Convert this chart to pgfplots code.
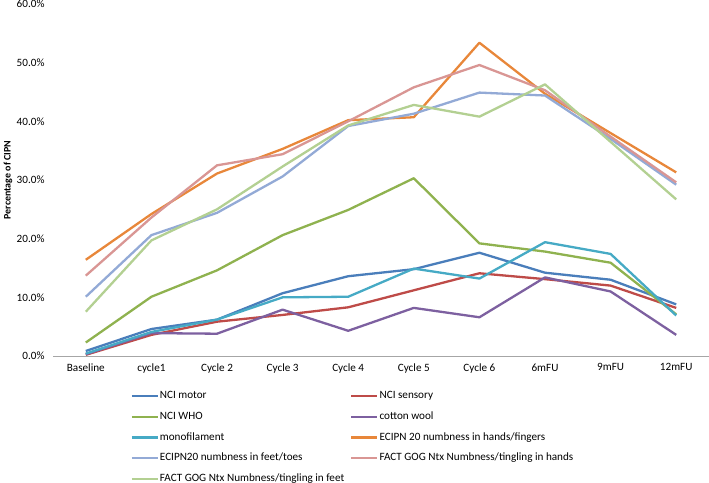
\documentclass[border=0pt]{standalone}
\usepackage{pgfplots}
\pgfplotsset{compat=1.18}
\usepackage{fontspec}
\setmainfont{Carlito}
\definecolor{cMotor}{HTML}{4A7EBB}
\definecolor{cSens}{HTML}{BE4B48}
\definecolor{cWHO}{HTML}{8FB24F}
\definecolor{cCotton}{HTML}{7D60A0}
\definecolor{cMono}{HTML}{46AAC5}
\definecolor{cEHand}{HTML}{E8873A}
\definecolor{cEFeet}{HTML}{93AAD6}
\definecolor{cFHand}{HTML}{D99694}
\definecolor{cFFeet}{HTML}{B3D092}
\begin{document}
\begin{tikzpicture}
\useasboundingbox (-53bp,-127bp) rectangle (656bp,356bp);
\begin{axis}[
  at={(0,0)}, anchor=south west,
  scale only axis, width=656bp, height=352bp,
  xmin=-0.5, xmax=9.5, ymin=0, ymax=60,
  axis lines*=left,
  x axis line style={gray!70, line width=0.8bp, -},
  y axis line style={draw=none},
  xtick={0,...,9},
  xticklabels={Baseline,cycle1,Cycle 2,Cycle 3,Cycle 4,Cycle 5,Cycle 6,6mFU,9mFU,12mFU},
  xtick style={draw=none},
  ytick={0,10,...,60},
  ytick style={draw=none},
  yticklabel={\pgfmathprintnumber[fixed,fixed zerofill,precision=1]{\tick}\%},
  /pgf/number format/assume math mode=true,
  tick label style={font=\fontsize{11.2}{13}\selectfont},
  xticklabel style={yshift=-4bp},
  yticklabel style={xshift=-5bp},
  ylabel={\bfseries Percentage of CIPN},
  ylabel style={font=\fontsize{11.2}{13}\selectfont},
  every axis y label/.style={at={(-45bp,176bp)}, rotate=90, anchor=center},
  every axis plot/.append style={line width=2.3bp, mark=none, line join=round},
  legend columns=2,
  legend cell align=left,
  legend image code/.code={\draw[#1] (0bp,0bp) -- (26bp,0bp);},
  legend style={draw=none, at={(0.1135,-0.09)}, anchor=north west,
    font=\fontsize{11.2}{13}\selectfont,
    nodes={inner sep=1bp, text height=8bp, text depth=2.5bp},
    row sep=8.2bp,
    /tikz/column 2/.style={column sep=5bp}},
  clip=false,
]
\addplot[cMotor] coordinates {(0,0.85) (1,4.6) (2,6.2) (3,10.7) (4,13.6) (5,14.8) (6,17.6) (7,14.2) (8,13.0) (9,8.8)};
\addlegendentry{NCI motor}
\addplot[cSens] coordinates {(0,0.2) (1,3.6) (2,5.85) (3,7.0) (4,8.3) (5,11.2) (6,14.1) (7,13.1) (8,12.0) (9,8.2)};
\addlegendentry{NCI sensory}
\addplot[cWHO] coordinates {(0,2.3) (1,10.1) (2,14.6) (3,20.6) (4,24.9) (5,30.3) (6,19.2) (7,17.8) (8,15.9) (9,7.1)};
\addlegendentry{NCI WHO}
\addplot[cCotton] coordinates {(0,0.3) (1,3.9) (2,3.8) (3,7.9) (4,4.3) (5,8.2) (6,6.6) (7,13.4) (8,11.0) (9,3.6)};
\addlegendentry{cotton wool}
\addplot[cMono] coordinates {(0,0.4) (1,4.1) (2,6.2) (3,10.0) (4,10.1) (5,14.9) (6,13.2) (7,19.4) (8,17.4) (9,6.9)};
\addlegendentry{monofilament}
\addplot[cEHand] coordinates {(0,16.4) (1,24.2) (2,31.1) (3,35.3) (4,40.2) (5,40.7) (6,53.4) (7,44.7) (8,38.0) (9,31.3)};
\addlegendentry{ECIPN 20 numbness in hands/fingers}
\addplot[cEFeet] coordinates {(0,10.1) (1,20.6) (2,24.4) (3,30.6) (4,39.2) (5,41.3) (6,44.9) (7,44.4) (8,37.0) (9,29.2)};
\addlegendentry{ECIPN20 numbness in feet/toes}
\addplot[cFHand] coordinates {(0,13.7) (1,23.6) (2,32.5) (3,34.4) (4,40.0) (5,45.8) (6,49.6) (7,45.3) (8,37.4) (9,29.6)};
\addlegendentry{FACT GOG Ntx Numbness/tingling in hands}
\addplot[cFFeet] coordinates {(0,7.55) (1,19.7) (2,25.0) (3,32.3) (4,39.3) (5,42.8) (6,40.8) (7,46.3) (8,36.5) (9,26.7)};
\addlegendentry{FACT GOG Ntx Numbness/tingling in feet}
\end{axis}
\end{tikzpicture}
\end{document}
